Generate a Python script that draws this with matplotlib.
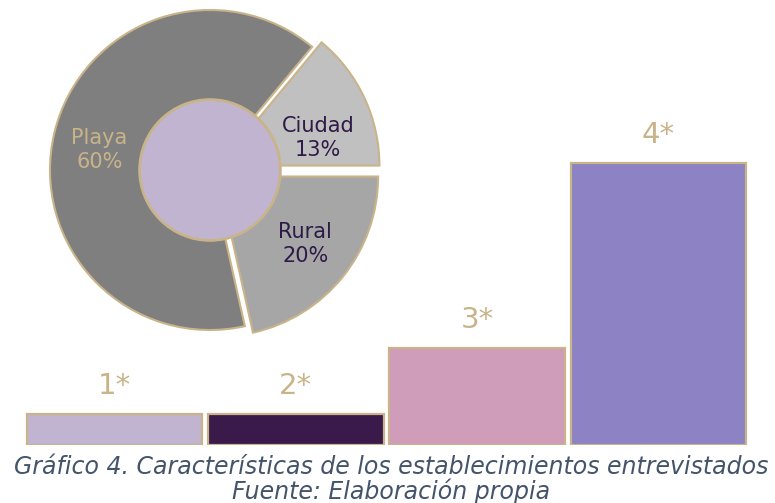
import matplotlib.pyplot as plt
from matplotlib.patches import Circle

# pie data
pie_labels = ['Ciudad', 'Playa', 'Rural']
pie_values = [13, 60, 20]
pie_colors = ['#c0c0c0', '#7f7f7f', '#a6a6a6']
pie_text_colors = ['#2e1a47', '#c9b48a', '#2e1a47']
# label spots inside the donut (radius units)
pie_text_pos = [(0.675, 0.20), (-0.69, 0.125), (0.595, -0.465)]

# bar data
bar_labels = ['1*', '2*', '3*', '4*']
bar_values = [7, 7, 22, 64]
bar_colors = ['#c0b4d0', '#3a1a4a', '#cf9dba', '#8c82c4']

gold = '#c9b48a'

W, H = 775, 503
fig = plt.figure(figsize=(W / 100, H / 100), dpi=100)

# bars
ax = fig.add_axes([0, 58 / H, 1, 440.6 / H])
ax.patch.set_alpha(0)
x = range(len(bar_values))
bars = ax.bar(x, bar_values, width=0.967, color=bar_colors, edgecolor=gold, linewidth=1.6)
for b, lab in zip(bars, bar_labels):
    ax.annotate(lab, (b.get_x() + b.get_width() / 2, b.get_height()),
                xytext=(0, 10), textcoords='offset points', ha='center', va='bottom',
                fontsize=21, color=gold)
ax.set_xlim(-0.6325, 3.6435)
ax.set_ylim(0, 100)
ax.axis('off')

# donut
cx, cy, r = 210, H - 170, 160
span = 1.1 * r
pax = fig.add_axes([(cx - span) / W, (cy - span) / H, 2 * span / W, 2 * span / H])
wedges, texts = pax.pie(pie_values, colors=pie_colors, startangle=0, counterclock=True,
                        explode=[0.065, 0, 0.065],
                        labels=[f'{l}\n{v}%' for l, v in zip(pie_labels, pie_values)],
                        wedgeprops=dict(edgecolor=gold, linewidth=1.5),
                        textprops=dict(fontsize=15, ha='center', va='center'))
for t, c, p in zip(texts, pie_text_colors, pie_text_pos):
    t.set_color(c)
    t.set_position(p)
    t.set_horizontalalignment('center')
    t.set_linespacing(1.25)
pax.add_patch(Circle((0, 0), 0.44, facecolor='#c0b4d0', edgecolor=gold, linewidth=2, zorder=5))
pax.set_xlim(-1.1, 1.1)
pax.set_ylim(-1.1, 1.1)
pax.set_aspect('equal')
pax.axis('off')

cap = '#44546a'
fig.text(391 / W, 1 - 467 / H, 'Gráfico 4. Características de los establecimientos entrevistados',
         ha='center', va='center', fontsize=17, style='italic', color=cap)
fig.text(391 / W, 1 - 491 / H, 'Fuente: Elaboración propia',
         ha='center', va='center', fontsize=17, style='italic', color=cap)

fig.savefig('out.png', dpi=100)
